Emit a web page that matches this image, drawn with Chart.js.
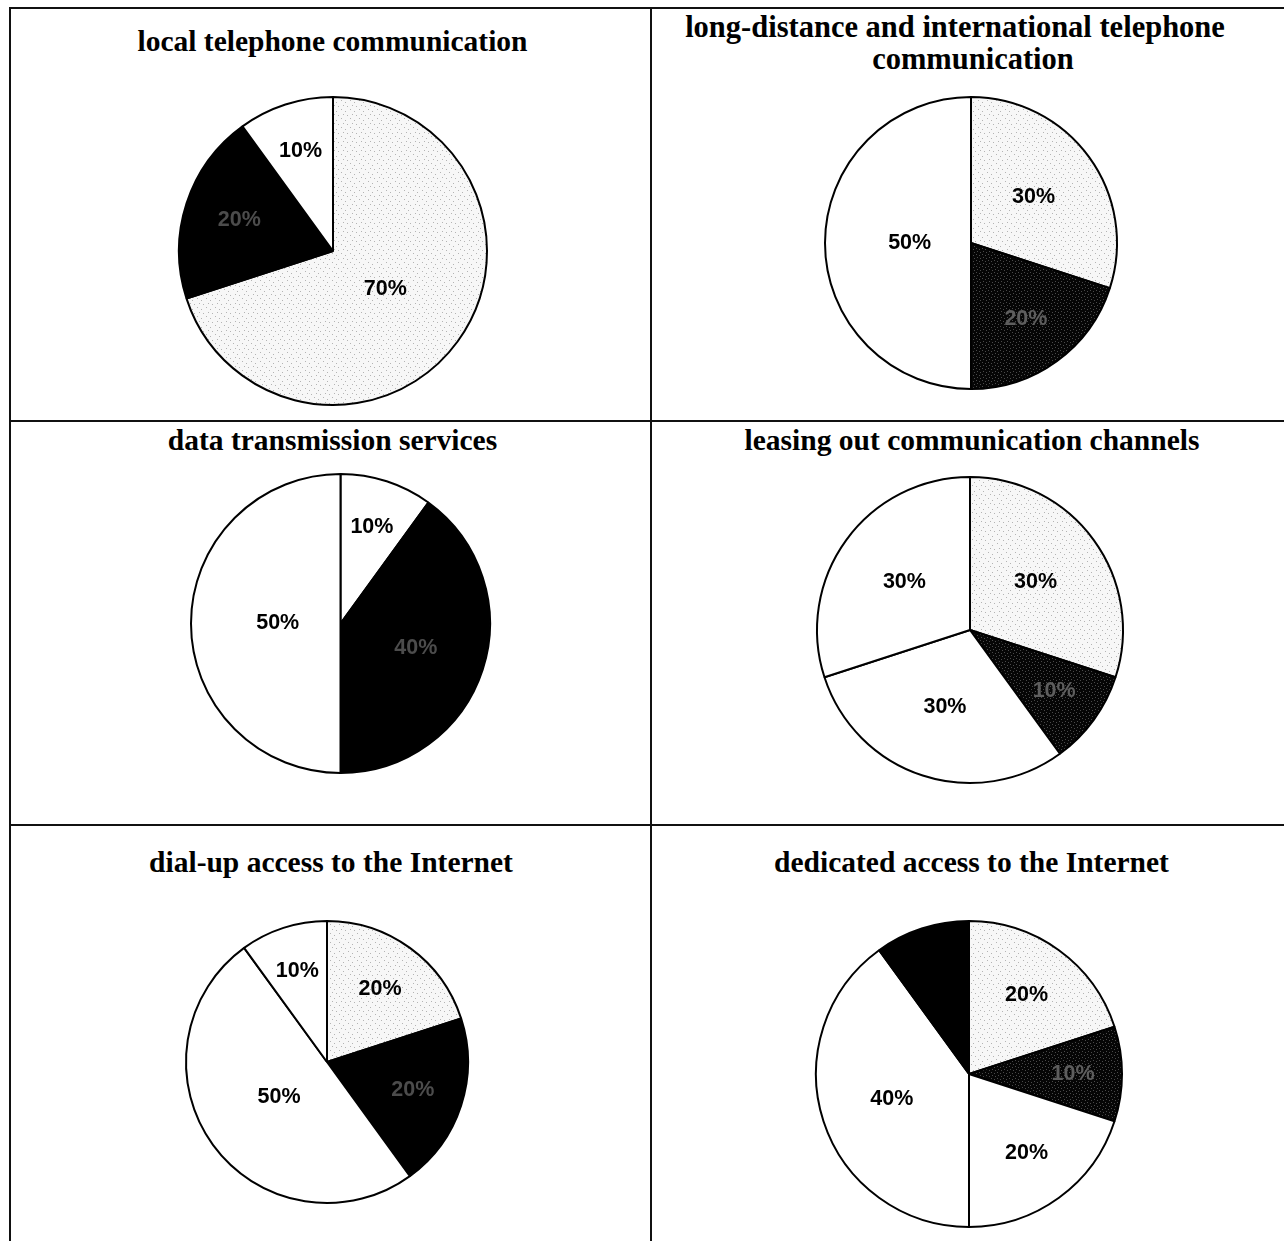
<!DOCTYPE html>
<html>
<head>
<meta charset="utf-8">
<title>Telecom services</title>
<script src="https://cdn.jsdelivr.net/npm/chart.js@4.4.0/dist/chart.umd.min.js"></script>
<style>
  body { margin: 0; background: #fff; }
  #page { position: relative; width: 1284px; height: 1241px; overflow: hidden; background: #fff; }
  .line { position: absolute; background: #111; }
  .title {
    position: absolute; width: 700px; text-align: center; white-space: nowrap;
    font-family: 'Liberation Serif', 'Times New Roman', serif; font-weight: bold;
    font-size: 29.5px; line-height: 32px; color: #000;
  }
  canvas { position: absolute; }
</style>
</head>
<body>
<div id="page"></div>
<script>
// values (percent shares, clockwise from 12 o'clock)
const localValues = [70, 20, 10];
const longDistanceValues = [30, 20, 50];
const dataTransValues = [10, 40, 50];
const leasingValues = [30, 10, 30, 30];
const dialUpValues = [20, 20, 50, 10];
const dedicatedValues = [20, 10, 20, 40, 10];

const titles = [
    ['local telephone communication'],
    ['long-distance and international telephone', 'communication'],
    ['data transmission services'],
    ['leasing out communication channels'],
    ['dial-up access to the Internet'],
    ['dedicated access to the Internet']
];

// fill kind of each slice
const localFills = ['light', 'black', 'white'];
const longDistanceFills = ['light', 'dark', 'white'];
const dataTransFills = ['white', 'black', 'white'];
const leasingFills = ['light', 'dark', 'white', 'white'];
const dialUpFills = ['light', 'black', 'white', 'white'];
const dedicatedFills = ['light', 'dark', 'white', 'white', 'solid'];

const page = document.getElementById('page');

// table frame
function addLine(x, y, w, h) {
    const d = document.createElement('div');
    d.className = 'line';
    d.style.left = x + 'px';
    d.style.top = y + 'px';
    d.style.width = w + 'px';
    d.style.height = h + 'px';
    page.appendChild(d);
}
addLine(9, 7, 1275, 2);
addLine(9, 7, 2, 1234);
addLine(650, 7, 2, 1234);
addLine(9, 420, 1275, 2);
addLine(9, 824, 1275, 2);

function makePattern(base, dot, size, dots) {
    const c = document.createElement('canvas');
    c.width = size;
    c.height = size;
    const g = c.getContext('2d');
    g.fillStyle = base;
    g.fillRect(0, 0, size, size);
    g.fillStyle = dot;
    dots.forEach(p => g.fillRect(p[0], p[1], 1, 1));
    return g.createPattern(c, 'repeat');
}

const fillStyles = {
    light: makePattern('#f7f7f7', '#b4b4b4', 9, [[1, 2], [6, 0], [3, 6], [8, 5]]),
    dark: makePattern('#060606', '#4a4a4a', 6, [[1, 1], [4, 2], [2, 4], [5, 5]]),
    black: '#000',
    solid: '#000',
    white: '#fff'
};
const labelColors = { light: '#000', white: '#000', dark: '#5e5e5e', black: '#4c4c4c', solid: '#000' };

const pctLabels = {
    id: 'pctLabels',
    afterDatasetsDraw(chart) {
        const ctx = chart.ctx;
        const ds = chart.data.datasets[0];
        const kinds = chart.options.plugins.pctLabels.kinds;
        ctx.save();
        ctx.font = 'bold 21.5px "Liberation Sans", Arial, sans-serif';
        ctx.textAlign = 'center';
        ctx.textBaseline = 'middle';
        chart.getDatasetMeta(0).data.forEach((arc, i) => {
            const v = ds.data[i];
            const mid = (arc.startAngle + arc.endAngle) / 2;
            const f = v <= 10 ? 0.68 : v <= 20 ? 0.64 : v <= 40 ? 0.53 : 0.42;
            const x = arc.x + Math.cos(mid) * arc.outerRadius * f;
            const y = arc.y + Math.sin(mid) * arc.outerRadius * f;
            ctx.fillStyle = labelColors[kinds[i]];
            ctx.fillText(v + '%', x, y);
        });
        ctx.restore();
    }
};

// tx: centre of each title line, ty: top of first line
const panels = [
    { values: localValues, fills: localFills, cx: 332.5, cy: 250.5, r: 154, tx: [332.5], ty: 25, fs: 29.5 },
    { values: longDistanceValues, fills: longDistanceFills, cx: 971, cy: 243, r: 146, tx: [955, 973], ty: 11, fs: 30.5 },
    { values: dataTransValues, fills: dataTransFills, cx: 340, cy: 623, r: 149.5, tx: [332.5], ty: 424, fs: 29.5 },
    { values: leasingValues, fills: leasingFills, cx: 969.5, cy: 630, r: 153, tx: [972], ty: 424, fs: 29.5 },
    { values: dialUpValues, fills: dialUpFills, cx: 327, cy: 1062, r: 141, tx: [331], ty: 846, fs: 29.5 },
    { values: dedicatedValues, fills: dedicatedFills, cx: 968.5, cy: 1074, r: 153, tx: [971.5], ty: 846, fs: 29.5 }
];

panels.forEach((p, idx) => {
    titles[idx].forEach((text, k) => {
        const t = document.createElement('div');
        t.className = 'title';
        t.style.left = (p.tx[k] - 350) + 'px';
        t.style.top = (p.ty + k * 32) + 'px';
        t.style.fontSize = p.fs + 'px';
        t.textContent = text;
        page.appendChild(t);
    });

    const side = Math.ceil(2 * (p.r + 6));
    const canvas = document.createElement('canvas');
    canvas.width = side;
    canvas.height = side;
    canvas.style.left = (p.cx - side / 2) + 'px';
    canvas.style.top = (p.cy - side / 2) + 'px';
    page.appendChild(canvas);

    new Chart(canvas.getContext('2d'), {
        type: 'pie',
        data: {
            labels: p.values.map(v => v + '%'),
            datasets: [{
                data: p.values,
                backgroundColor: p.fills.map(k => fillStyles[k]),
                borderColor: '#000',
                borderWidth: 2,
                radius: p.r
            }]
        },
        options: {
            responsive: false,
            animation: false,
            events: [],
            plugins: {
                legend: { display: false },
                tooltip: { enabled: false },
                pctLabels: { kinds: p.fills }
            }
        },
        plugins: [pctLabels]
    });
});
</script>
</body>
</html>
